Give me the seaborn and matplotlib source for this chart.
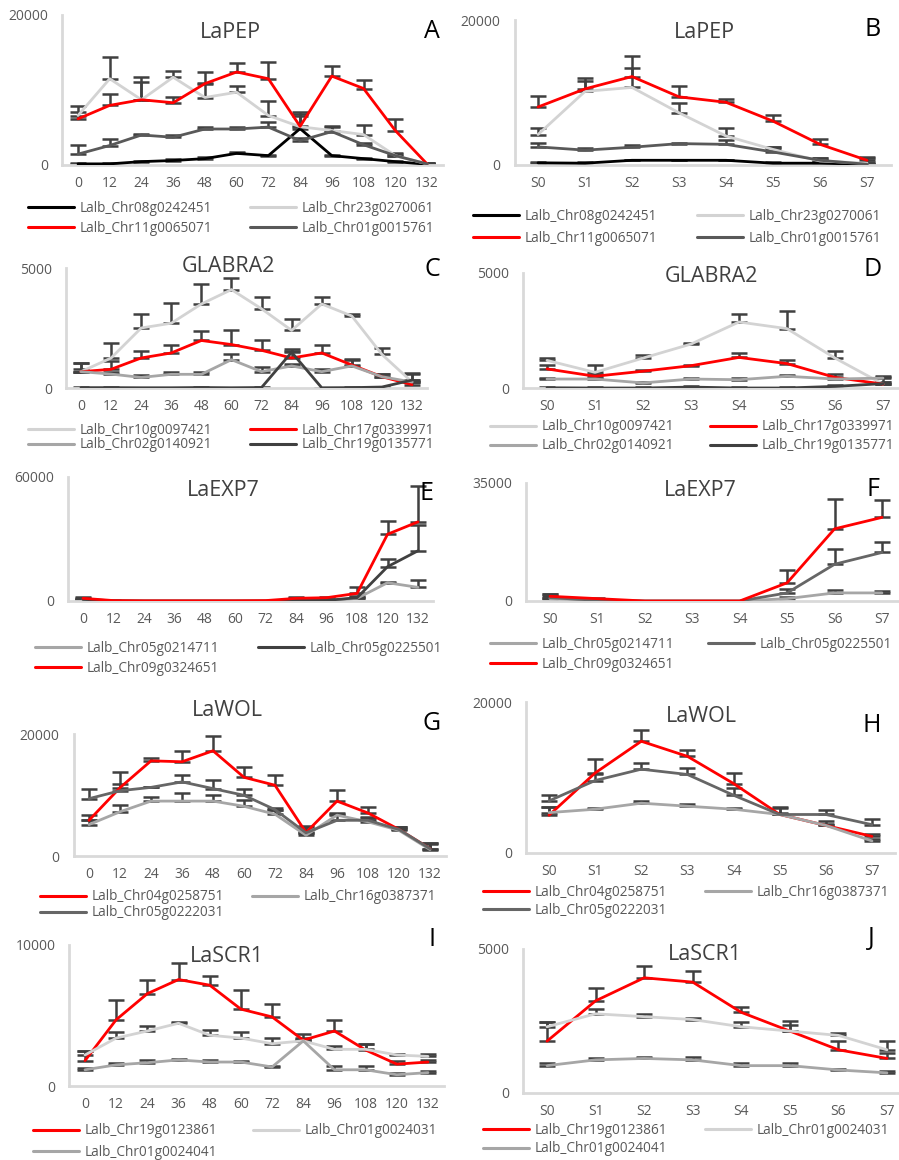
import numpy as np
import pandas as pd
import seaborn as sns
import matplotlib.pyplot as plt
from matplotlib.lines import Line2D

sns.set_style('white')
plt.rcParams['font.family'] = ['Open Sans', 'DejaVu Sans']

# x categories
hours = ['0', '12', '24', '36', '48', '60', '72', '84', '96', '108', '120', '132']
stages = ['S0', 'S1', 'S2', 'S3', 'S4', 'S5', 'S6', 'S7']

# colours used by Excel-like series
RED = '#FF0000'
BLACK = '#000000'
LIGHT = '#D3D3D3'
MID = '#A6A6A6'
DARK = '#595959'
DARKER = '#404040'

# A - LaPEP over hours
a_chr08 = [150, 150, 450, 600, 850, 1550, 1250, 4850, 1250, 850, 450, 100]
a_chr08_err = [150, 100, 100, 150, 250, 150, 150, 2200, 150, 100, 100, 100]
a_chr23 = [6600, 11500, 8700, 11700, 9000, 9700, 6600, 5100, 4600, 4050, 1250, 150]
a_chr23_err = [1300, 2900, 3000, 800, 1900, 900, 1900, 1400, 500, 1350, 300, 150]
a_chr11 = [6150, 7950, 8700, 8300, 10850, 12400, 11500, 5150, 11850, 10200, 4600, 150]
a_chr11_err = [900, 1550, 2350, 750, 1550, 1200, 2250, 1700, 1350, 1100, 1550, 150]
a_chr01 = [1450, 2600, 4000, 3700, 4800, 4800, 5050, 3250, 4450, 2700, 1250, 150]
a_chr01_err = [1250, 900, 150, 300, 250, 250, 700, 400, 700, 300, 200, 100]

# B - LaPEP over stages
b_chr08 = [300, 250, 650, 650, 650, 250, 250, 100]
b_chr08_err = [150, 100, 100, 100, 100, 100, 100, 100]
b_chr23 = [4200, 10150, 10700, 7200, 4000, 2150, 550, 250]
b_chr23_err = [900, 1400, 2650, 1300, 1150, 300, 350, 700]
b_chr11 = [8000, 10500, 12200, 9400, 8650, 6050, 2850, 650]
b_chr11_err = [1450, 1500, 2850, 1550, 500, 800, 800, 450]
b_chr01 = [2500, 2050, 2450, 2950, 2850, 1800, 650, 100]
b_chr01_err = [550, 250, 300, 100, 550, 700, 250, 250]

# C - GLABRA2 over hours
c_chr10 = [680, 1250, 2500, 2700, 3500, 4100, 3300, 2400, 3500, 3000, 1400, 250]
c_chr10_err = [350, 640, 600, 850, 850, 470, 500, 470, 280, 100, 280, 350]
c_chr17 = [680, 780, 1250, 1460, 1980, 1810, 1570, 1250, 1460, 960, 470, 140]
c_chr17_err = [350, 330, 280, 350, 400, 610, 450, 300, 350, 250, 100, 100]
c_chr02 = [680, 580, 440, 570, 570, 1180, 680, 920, 680, 920, 470, 250]
c_chr02_err = [100, 100, 100, 110, 100, 240, 210, 100, 100, 250, 100, 100]
c_chr19 = [15, 15, 10, 10, 20, 10, 20, 1490, 10, 15, 40, 330]
c_chr19_err = [10, 10, 10, 10, 10, 10, 10, 140, 10, 10, 10, 280]

# D - GLABRA2 over stages
d_chr10 = [1200, 680, 1300, 1910, 2870, 2580, 1300, 170]
d_chr10_err = [100, 330, 150, 50, 360, 780, 320, 360]
d_chr17 = [830, 510, 730, 970, 1330, 1060, 460, 170]
d_chr17_err = [190, 100, 50, 50, 190, 170, 150, 100]
d_chr02 = [390, 390, 220, 390, 360, 510, 390, 430]
d_chr02_err = [60, 60, 60, 60, 60, 60, 60, 60]
d_chr19 = [10, 0, 0, 40, 0, 0, 70, 190]
d_chr19_err = [50, 50, 50, 50, 50, 50, 50, 50]

# E - LaEXP7 over hours
e_chr0547 = [480, 100, 0, 0, 0, 0, 0, 150, 150, 1290, 8850, 6600]
e_chr0547_err = [200, 0, 0, 0, 0, 0, 0, 300, 300, 500, 500, 3500]
e_chr0555 = [800, 100, 0, 0, 0, 0, 0, 300, 300, 1600, 16600, 24300]
e_chr0555_err = [300, 100, 0, 0, 0, 0, 0, 400, 400, 600, 3500, 12400]
e_chr09 = [1300, 200, 100, 100, 100, 100, 200, 1300, 1600, 3700, 32300, 38300]
e_chr09_err = [400, 200, 0, 0, 0, 0, 0, 500, 500, 3200, 6400, 17200]

# F - LaEXP7 over stages
f_chr0547 = [700, 200, 0, 0, 0, 700, 2400, 2400]
f_chr0547_err = [300, 100, 0, 0, 0, 400, 1000, 600]
f_chr0555 = [1000, 200, 0, 0, 0, 2400, 10900, 14400]
f_chr0555_err = [1000, 100, 0, 0, 0, 1300, 4400, 3200]
f_chr09 = [1400, 700, 0, 0, 0, 5400, 21400, 24800]
f_chr09_err = [600, 100, 0, 0, 0, 3800, 8900, 5300]

# G - LaWOL over hours
g_chr04 = [5850, 11200, 15600, 15450, 17250, 12900, 11600, 3850, 9000, 7050, 4350, 1200]
g_chr04_err = [800, 2600, 400, 1750, 2400, 1650, 1650, 1100, 1900, 1000, 450, 800]
g_chr16 = [5150, 7250, 9000, 9000, 9000, 8150, 6850, 3400, 6700, 5600, 4200, 1050]
g_chr16_err = [700, 1100, 700, 1350, 1000, 1000, 650, 550, 400, 550, 550, 1000]
g_chr05 = [9400, 10700, 11250, 12150, 11050, 9950, 7600, 3800, 5850, 5850, 4350, 1200]
g_chr05_err = [1650, 1050, 100, 1100, 1350, 1100, 200, 1000, 1100, 550, 450, 950]

# H - LaWOL over stages
h_chr04 = [5000, 10600, 14800, 12800, 9200, 5100, 3650, 2200]
h_chr04_err = [1100, 1800, 1550, 800, 1400, 800, 650, 350]
h_chr16 = [5350, 5800, 6600, 6200, 5800, 5100, 3650, 1600]
h_chr16_err = [750, 200, 250, 250, 200, 200, 200, 300]
h_chr05 = [6900, 9600, 11100, 10400, 7650, 5100, 5100, 3750]
h_chr05_err = [750, 900, 850, 800, 1000, 1000, 650, 800]

# I - LaSCR1 over hours
i_chr19 = [1800, 4700, 6550, 7550, 7150, 5450, 4900, 3250, 3900, 2550, 1550, 1700]
i_chr19_err = [650, 1400, 950, 1150, 650, 1350, 900, 450, 800, 450, 200, 150]
i_chr0103 = [2200, 3400, 3900, 4450, 3600, 3400, 3000, 3200, 2600, 2600, 2200, 2100]
i_chr0103_err = [250, 450, 350, 100, 400, 400, 400, 200, 250, 400, 50, 150]
i_chr0104 = [1150, 1500, 1650, 1850, 1700, 1700, 1350, 3200, 1150, 1150, 800, 950]
i_chr0104_err = [100, 100, 200, 100, 150, 100, 100, 100, 300, 250, 100, 100]

# J - LaSCR1 over stages
j_chr19 = [1800, 3200, 4000, 3850, 2800, 2150, 1500, 1200]
j_chr19_err = [650, 450, 400, 400, 200, 200, 300, 200]
j_chr0103 = [2300, 2750, 2650, 2550, 2300, 2150, 2000, 1500]
j_chr0103_err = [150, 150, 100, 50, 150, 350, 100, 300]
j_chr0104 = [950, 1150, 1200, 1150, 950, 950, 800, 700]
j_chr0104_err = [100, 50, 50, 100, 100, 100, 50, 50]

W, H = 899, 1160
fig = plt.figure(figsize=(W / 100, H / 100), dpi=100)


def px_axes(first_x, last_x, n, top, bottom):
    step = (last_x - first_x) / (n - 1)
    left = first_x - step / 2
    right = last_x + step / 2
    return fig.add_axes([left / W, 1 - bottom / H, (right - left) / W, (bottom - top) / H])


def draw_panel(ax, cats, names, values, errors, colors, ymax, ystep):
    n = len(cats)
    df = pd.DataFrame({
        'x': np.tile(np.arange(n), len(names)),
        'value': np.concatenate(values),
        'gene': np.repeat(names, n),
    })
    for v, e in zip(values, errors):
        ax.errorbar(np.arange(n), v, yerr=[np.zeros(n), e], fmt='none',
                    ecolor=DARKER, elinewidth=1.8, capsize=5.5, capthick=1.8, zorder=2)
    sns.lineplot(data=df, x='x', y='value', hue='gene', hue_order=names,
                 palette=dict(zip(names, colors)), legend=False, ax=ax,
                 linewidth=2, zorder=3)
    ax.set_xlim(-0.5, n - 0.5)
    ax.set_ylim(0, ymax)
    ax.set_xticks(np.arange(n))
    ax.set_xticklabels(cats)
    ax.set_yticks([0, ymax])
    ax.set_yticklabels(['0', str(ymax)])
    ax.set_yticks(np.arange(0, ymax + 1, ystep), minor=True)
    ax.set_xlabel('')
    ax.set_ylabel('')
    for s in ['top', 'right']:
        ax.spines[s].set_visible(False)
    for s in ['left', 'bottom']:
        ax.spines[s].set_color('#D9D9D9')
        ax.spines[s].set_linewidth(2)
    ax.tick_params(axis='both', which='both', direction='inout', length=8, width=2,
                   color='#D9D9D9', labelcolor='#595959', labelsize=10)
    ax.tick_params(axis='x', pad=4)
    ax.tick_params(axis='y', pad=6)
    ax.patch.set_alpha(0)


def add_legend(names, colors, cols, rows):
    # Excel-style legend: entries laid out row by row in two columns
    for k, (name, c) in enumerate(zip(names, colors)):
        x = cols[k % 2]
        y = rows[k // 2]
        h = Line2D([], [], color=c, linewidth=2.2)
        fig.legend([h], [name], loc='center left', bbox_to_anchor=(x / W, 1 - y / H),
                   frameon=False, borderpad=0, borderaxespad=0, handlelength=3.4,
                   handletextpad=0.4, fontsize=9.8, labelcolor='#595959')


def label(title, tx, ty, letter, lx, ly):
    fig.text(tx / W, 1 - ty / H, title, ha='center', va='center', fontsize=15.5, color=DARKER)
    fig.text(lx / W, 1 - ly / H, letter, ha='center', va='center', fontsize=18, color=BLACK)


# panel A
names = ['Lalb_Chr08g0242451', 'Lalb_Chr23g0270061', 'Lalb_Chr11g0065071', 'Lalb_Chr01g0015761']
cols_pep = [BLACK, LIGHT, RED, DARK]
ax = px_axes(78, 427, 12, 15, 165)
draw_panel(ax, hours, names, [a_chr08, a_chr23, a_chr11, a_chr01],
           [a_chr08_err, a_chr23_err, a_chr11_err, a_chr01_err], cols_pep, 20000, 2000)
add_legend(names, cols_pep, (28, 250), (208, 228))
label('LaPEP', 230, 33, 'A', 432, 32)

# panel B
ax = px_axes(538, 867, 8, 20, 165)
draw_panel(ax, stages, names, [b_chr08, b_chr23, b_chr11, b_chr01],
           [b_chr08_err, b_chr23_err, b_chr11_err, b_chr01_err], cols_pep, 20000, 2000)
add_legend(names, cols_pep, (473, 697), (216, 238))
label('LaPEP', 704, 33, 'B', 873, 30)

# panel C
names = ['Lalb_Chr10g0097421', 'Lalb_Chr17g0339971', 'Lalb_Chr02g0140921', 'Lalb_Chr19g0135771']
cols_gl = [LIGHT, RED, MID, DARKER]
ax = px_axes(81, 412, 12, 268, 388)
draw_panel(ax, hours, names, [c_chr10, c_chr17, c_chr02, c_chr19],
           [c_chr10_err, c_chr17_err, c_chr02_err, c_chr19_err], cols_gl, 5000, 1000)
add_legend(names, cols_gl, (28, 250), (430, 445))
label('GLABRA2', 228, 267, 'C', 432, 269)

# panel D
ax = px_axes(547, 883, 8, 273, 388)
draw_panel(ax, stages, names, [d_chr10, d_chr17, d_chr02, d_chr19],
           [d_chr10_err, d_chr17_err, d_chr02_err, d_chr19_err], cols_gl, 5000, 1000)
add_legend(names, cols_gl, (490, 710), (427, 446))
label('GLABRA2', 711, 277, 'D', 873, 270)

# panel E
names = ['Lalb_Chr05g0214711', 'Lalb_Chr05g0225501', 'Lalb_Chr09g0324651']
cols_exp = [MID, DARKER, RED]
ax = px_axes(83, 418, 12, 477, 601)
draw_panel(ax, hours, names, [e_chr0547, e_chr0555, e_chr09],
           [e_chr0547_err, e_chr0555_err, e_chr09_err], cols_exp, 60000, 2000)
add_legend(names, cols_exp, (35, 258), (648, 668))
label('LaEXP7', 223, 490, 'E', 426, 493)

# panel F
cols_exp_f = [MID, '#666666', RED]
ax = px_axes(550, 882, 8, 483, 601)
draw_panel(ax, stages, names, [f_chr0547, f_chr0555, f_chr09],
           [f_chr0547_err, f_chr0555_err, f_chr09_err], cols_exp_f, 35000, 1000)
add_legend(names, cols_exp_f, (490, 708), (644, 664))
label('LaEXP7', 700, 491, 'F', 873, 490)

# panel G
names = ['Lalb_Chr04g0258751', 'Lalb_Chr16g0387371', 'Lalb_Chr05g0222031']
cols_wol = [RED, MID, '#666666']
ax = px_axes(89, 430, 12, 734, 856)
draw_panel(ax, hours, names, [g_chr04, g_chr16, g_chr05],
           [g_chr04_err, g_chr16_err, g_chr05_err], cols_wol, 20000, 2000)
add_legend(names, cols_wol, (40, 252), (897, 913))
label('LaWOL', 227, 711, 'G', 432, 723)

# panel H
ax = px_axes(549, 872, 8, 702, 853)
draw_panel(ax, stages, names, [h_chr04, h_chr16, h_chr05],
           [h_chr04_err, h_chr16_err, h_chr05_err], cols_wol, 20000, 2000)
add_legend(names, cols_wol, (483, 705), (892, 910))
label('LaWOL', 701, 717, 'H', 872, 725)

# panel I
names = ['Lalb_Chr19g0123861', 'Lalb_Chr01g0024031', 'Lalb_Chr01g0024041']
cols_scr = [RED, LIGHT, MID]
ax = px_axes(85, 428, 12, 945, 1086)
draw_panel(ax, hours, names, [i_chr19, i_chr0103, i_chr0104],
           [i_chr19_err, i_chr0103_err, i_chr0104_err], cols_scr, 10000, 2000)
add_legend(names, cols_scr, (33, 253), (1131, 1152))
label('LaSCR1', 227, 957, 'I', 432, 939)

# panel J
ax = px_axes(547, 887, 8, 949, 1093)
draw_panel(ax, stages, names, [j_chr19, j_chr0103, j_chr0104],
           [j_chr19_err, j_chr0103_err, j_chr0104_err], cols_scr, 5000, 1000)
add_legend(names, cols_scr, (483, 705), (1130, 1149))
label('LaSCR1', 705, 955, 'J', 871, 939)

fig.savefig('out.png', dpi=100)
